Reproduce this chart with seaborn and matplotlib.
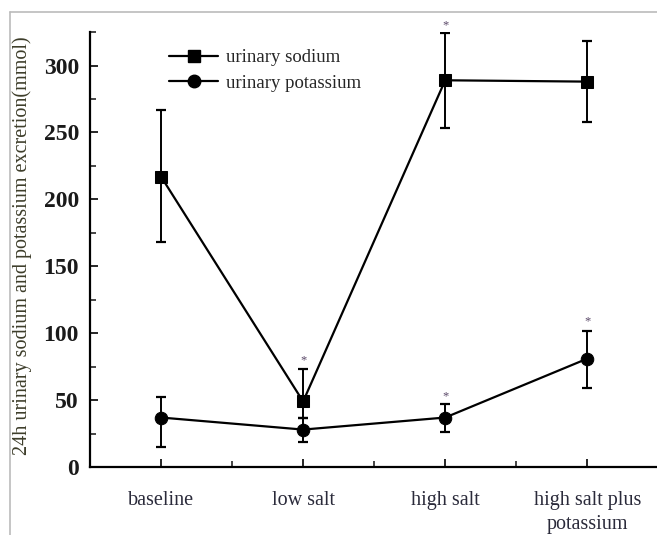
import matplotlib
matplotlib.use("Agg")
import matplotlib.pyplot as plt
from matplotlib.lines import Line2D
from matplotlib.ticker import MultipleLocator
import seaborn as sns
import numpy as np
import pandas as pd

# data
groups = ["baseline", "low salt", "high salt", "high salt plus\npotassium"]
sodium = [217, 49, 289, 288]
sodium_err_lo = [49, 12, 36, 30]
sodium_err_hi = [50, 24, 35, 30]
potassium = [37, 28, 37, 81]
potassium_err_lo = [22, 9, 11, 22]
potassium_err_hi = [15, 9, 10, 21]
# significance marks (group index, y value)
star_x = [1, 2, 2, 3]
star_y = [80, 330, 53, 109]

sns.set_theme(style="ticks")
plt.rcParams['font.family'] = ['Liberation Serif', 'DejaVu Serif']
plt.rcParams['xtick.direction'] = 'in'
plt.rcParams['ytick.direction'] = 'in'

df = pd.DataFrame({
    "group": list(range(4)) * 2,
    "value": sodium + potassium,
    "series": ["urinary sodium"] * 4 + ["urinary potassium"] * 4,
})

fig = plt.figure(figsize=(6.57, 5.35), dpi=100)
ax = fig.add_axes([0.137, 0.127, 0.865, 0.813])

sns.lineplot(data=df, x="group", y="value", style="series",
             markers={"urinary sodium": "s", "urinary potassium": "o"},
             dashes=False, color="black", lw=1.6, markersize=9,
             markeredgecolor="black", ax=ax, legend=False)

x = np.arange(len(groups))
ax.errorbar(x, sodium, yerr=[sodium_err_lo, sodium_err_hi], fmt="none",
            ecolor="black", elinewidth=1.4, capsize=3.5, capthick=1.6)
ax.errorbar(x, potassium, yerr=[potassium_err_lo, potassium_err_hi], fmt="none",
            ecolor="black", elinewidth=1.4, capsize=3.5, capthick=1.6)

for sx, sy in zip(star_x, star_y):
    ax.text(sx, sy, "*", ha="center", va="center", fontsize=9, color="#5a4868")

ax.set_xlim(-0.5, 3.5)
ax.set_ylim(0, 325)
ax.set_xticks(x)
ax.set_xticklabels(groups, fontsize=14.5, color="#2a2a3a", linespacing=1.35)
ax.xaxis.set_minor_locator(MultipleLocator(0.5))
ax.yaxis.set_major_locator(MultipleLocator(50))
ax.yaxis.set_minor_locator(MultipleLocator(25))
ax.tick_params(axis="y", labelsize=17, length=6, width=1.4, pad=8)
ax.tick_params(axis="x", length=6, width=1.4, pad=17)
ax.tick_params(which="minor", length=4, width=1.2)
for lab in ax.get_yticklabels():
    lab.set_color("#1a1a1a")
    lab.set_fontweight("bold")
ax.set_xlabel("")
ax.set_ylabel("24h urinary sodium and potassium excretion(mmol)",
              fontsize=14.5, color="#3d3d2a", va="center")
ax.yaxis.set_label_coords(-0.12, 0.51)
sns.despine(ax=ax)
for sp in ["left", "bottom"]:
    ax.spines[sp].set_linewidth(1.6)
    ax.spines[sp].set_color("black")

handles = [
    Line2D([], [], color="black", lw=1.6, marker="s", markersize=9),
    Line2D([], [], color="black", lw=1.6, marker="o", markersize=9),
]
ax.legend(handles, ["urinary sodium", "urinary potassium"], loc="upper left",
          bbox_to_anchor=(0.11, 1.0), frameon=False, fontsize=13.5,
          handlelength=2.6, handletextpad=0.4, labelspacing=0.45)

# thin grey frame of the original picture
fig.add_artist(Line2D([0.015, 1.0], [0.978, 0.978], color="#bbbbbb", lw=1.2,
                      transform=fig.transFigure))
fig.add_artist(Line2D([0.015, 0.015], [0.0, 0.978], color="#bbbbbb", lw=1.2,
                      transform=fig.transFigure))

fig.savefig("out.png", dpi=100)
